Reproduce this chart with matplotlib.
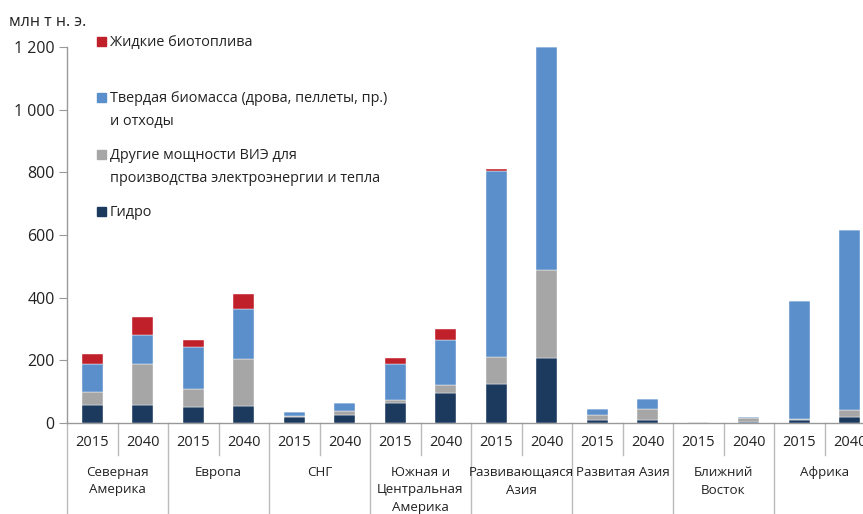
import matplotlib
matplotlib.use("Agg")
import matplotlib.pyplot as plt
from matplotlib.patches import Rectangle
import numpy as np

plt.rcParams['font.family'] = ['Open Sans', 'DejaVu Sans']

regions = ["Северная\nАмерика", "Европа", "СНГ", "Южная и\nЦентральная\nАмерика",
           "Развивающаяся\nАзия", "Развитая Азия", "Ближний\nВосток", "Африка"]
years = ["2015", "2040"]

# values per bar: region order, 2015 then 2040 (млн т н. э.)
hydro  = [57, 58, 51, 55, 19, 24, 63, 95, 124, 207, 8, 11, 1, 2, 10, 18]
other  = [43, 129, 57, 148, 2, 13, 9, 25, 86, 280, 16, 35, 1, 13, 2, 23]
solid  = [88, 93, 135, 161, 13, 27, 117, 144, 594, 713, 21, 32, 2, 3, 376, 575]
liquid = [33, 58, 21, 48, 2, 1, 18, 36, 7, 0, 1, 0, 0, 0, 2, 0]

series_labels = ["Гидро", "Другие мощности ВИЭ для\nпроизводства электроэнергии и тепла",
                 "Твердая биомасса (дрова, пеллеты, пр.)\nи отходы", "Жидкие биотоплива"]
colors = ["#1B3A5E", "#A6A6A6", "#5B8FCB", "#C0202A"]

y_ticks = [0, 200, 400, 600, 800, 1000, 1200]
y_tick_labels = ["0", "200", "400", "600", "800", "1 000", "1 200"]

W, H = 863, 514
fig = plt.figure(figsize=(W / 100, H / 100), dpi=100)

slot = 50.5
left_px, zero_px, top_px = 67, 423, 47
n_slots = 18
ax = fig.add_axes([left_px / W, 1 - zero_px / H,
                   n_slots * slot / W, (zero_px - top_px) / H])

x = np.arange(len(hydro))
bottom = np.zeros(len(hydro))
for vals, c in zip([hydro, other, solid, liquid], colors):
    ax.bar(x, vals, bottom=bottom, width=0.41, color=c, edgecolor='white',
           linewidth=0.3, zorder=3)
    bottom += np.array(vals)

ax.set_xlim(-0.5, n_slots - 0.5)
ax.set_ylim(0, 1200)
ax.set_yticks(y_ticks)
ax.set_yticklabels(y_tick_labels, fontsize=11.5, color='#222222')
ax.tick_params(axis='y', length=6, width=0.8, color='#999999', pad=3)
ax.set_xticks([])
for s in ['top', 'right']:
    ax.spines[s].set_visible(False)
for s in ['left', 'bottom']:
    ax.spines[s].set_color('#999999')
    ax.spines[s].set_linewidth(1.0)

# category table below the axis
ax_h = zero_px - top_px
tr = ax.get_xaxis_transform()
for i in range(len(hydro)):
    ax.text(i, -20 / ax_h, years[i % 2], transform=tr, ha='center', va='center',
            fontsize=10.5, color='#222222')
for k in range(len(regions) + 1):
    xs = 2 * k - 0.5
    ax.plot([xs, xs], [0, -100 / ax_h], transform=tr, color='#BBBBBB',
            lw=1.0, clip_on=False)
for k in range(len(regions)):
    xs = 2 * k + 0.5
    ax.plot([xs, xs], [0, -32 / ax_h], transform=tr, color='#BBBBBB',
            lw=1.0, clip_on=False)
    ax.text(2 * k + 0.5, -43 / ax_h, regions[k], transform=tr, ha='center',
            va='top', fontsize=9.6, color='#222222', linespacing=1.45)

# unit label
fig.text(9 / W, 1 - 22 / H, "млн т н. э.", fontsize=11.5, color='#222222',
         ha='left', va='center')

# legend
legend_rows = [(41, 3), (97, 2), (154, 1), (211, 0)]
for y_px, idx in legend_rows:
    fig.patches.append(Rectangle(((97) / W, 1 - (y_px + 5) / H), 9 / W, 9 / H,
                                 transform=fig.transFigure, color=colors[idx]))
    fig.text(110 / W, 1 - (y_px - 6) / H, series_labels[idx], fontsize=10.4,
             color='#222222', ha='left', va='top', linespacing=1.75)

fig.savefig("out.png", dpi=100)
